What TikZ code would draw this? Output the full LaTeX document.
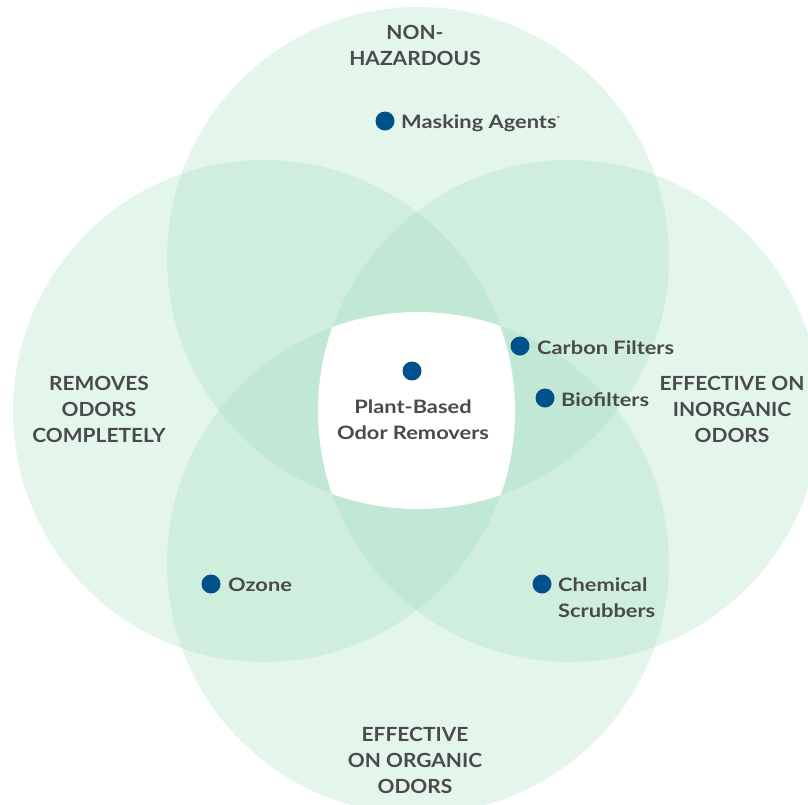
\documentclass[tikz,border=0pt]{standalone}
\usepackage{fontspec}
\setmainfont{Lato}
\newfontfamily\catfont{Lato}[FakeStretch=1.075]
\newfontfamily\itemfont{Lato}[FakeStretch=1.18]
\definecolor{venn}{RGB}{151,217,182}
\definecolor{txt}{RGB}{74,74,76}
\definecolor{dotc}{RGB}{0,81,138}
\begin{document}
\begin{tikzpicture}[x=1pt,y=-1pt,
  setfill/.style={fill=venn, fill opacity=0.26},
  cat/.style={font=\catfont\bfseries\fontsize{19.5}{26}\selectfont, text=txt, align=center, inner sep=0pt, anchor=base},
  item/.style={font=\itemfont\bfseries\fontsize{18.5}{26}\selectfont, text=txt, align=left, inner sep=0pt, anchor=base west},
  bullet/.style={circle, fill=dotc, minimum size=19pt, inner sep=0pt}]
\useasboundingbox (0,0) rectangle (808,804);
\clip (0,0) rectangle (808,804);
% sets
\path[setfill] (418,258) circle[radius=251pt];
\path[setfill] (264,411) circle[radius=251pt];
\path[setfill] (569,411) circle[radius=251pt];
\path[setfill] (418,563) circle[radius=251pt];
\begin{scope}
  \clip (418,258) circle[radius=251pt];
  \clip (264,411) circle[radius=251pt];
  \clip (569,411) circle[radius=251pt];
  \fill[white] (418,563) circle[radius=251pt];
\end{scope}
% category labels (base = baseline of last line)
\node[cat] (nonhaz) at (415,65) {NON-\\HAZARDOUS};
\node[cat] (removes) at (99,442) {REMOVES\\ODORS\\COMPLETELY};
\node[cat] (inorg) at (732,442) {EFFECTIVE ON\\INORGANIC\\ODORS};
\node[cat] (org) at (415,793) {EFFECTIVE\\ON ORGANIC\\ODORS};
% items
\node[bullet] (d1) at (385,121) {};
\node[item] (masking) at (401,128) {Masking Agents\textsuperscript{\scriptsize *}};
\node[bullet] (d2) at (520,346) {};
\node[item] (carbon) at (537,354) {Carbon Filters};
\node[bullet] (d3) at (545,398) {};
\node[item] (bio) at (561,406) {Biofilters};
\node[bullet] (d4) at (412,371) {};
\node[item, align=center, anchor=base] (plant) at (413,439) {Plant-Based\\Odor Removers};
\node[bullet] (d5) at (211,584) {};
\node[item] (ozone) at (228,591) {Ozone};
\node[bullet] (d6) at (542,584) {};
\node[item] (chem) at (558,617) {Chemical\\Scrubbers};
\end{tikzpicture}
\end{document}
